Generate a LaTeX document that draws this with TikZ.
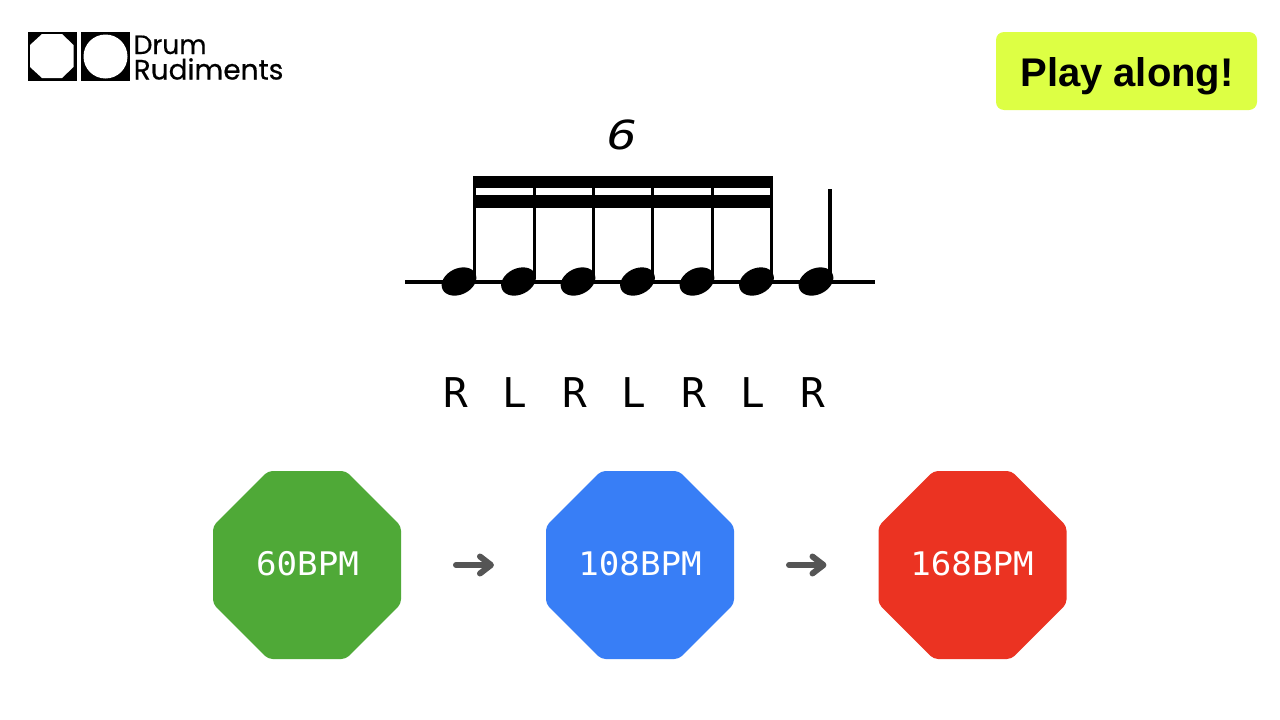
\documentclass[tikz,border=0pt]{standalone}
\usepackage{fontspec}
\setmainfont{Liberation Sans}
\newfontfamily\monof{DejaVu Sans Mono}
\newfontfamily\logof[FakeBold=0.5]{Poppins}
\usetikzlibrary{shapes.geometric,arrows.meta}
\definecolor{cgreen}{HTML}{4FA937}
\definecolor{cblue}{HTML}{387EF6}
\definecolor{cred}{HTML}{EB3322}
\definecolor{cyell}{HTML}{DDFF44}
\definecolor{cgray}{HTML}{555555}
\tikzset{
  bpm/.style={regular polygon,regular polygon sides=8,minimum size=203.5pt,inner sep=0pt,outer sep=0pt,rounded corners=4.5pt,text=white},
  bpmtext/.style={anchor=center,inner sep=0pt,text=white,xscale=1.05,font=\monof\fontsize{32.5}{32.5}\selectfont},
  hand/.style={anchor=base,font=\monof\fontsize{41}{41}\selectfont,inner sep=0pt},
  head/.style={fill=black,rotate=26,ellipse,minimum width=36.5pt,minimum height=26pt,inner sep=0pt,outer sep=0pt},
  stem/.style={line width=3pt,black},
  go/.style={draw=cgray,line width=6pt,line cap=round,-{Straight Barb[length=11pt,width=17pt,round]},shorten <=55pt,shorten >=52pt}
}
\begin{document}
\begin{tikzpicture}[x=1pt,y=-1pt]
\useasboundingbox (0,0) rectangle (1280,720);
\fill[white] (0,0) rectangle (1280,720);
% logo
\fill[black] (27.5,32) rectangle (76.5,81);
\fill[black] (81,32) rectangle (130,81);
\fill[white] (42,34) -- (62,34) -- (73.5,45) -- (73.5,67) -- (62,78) -- (42,78) -- (30,67) -- (30,45) -- cycle;
\fill[white] (105.5,56.5) circle (22);
\node[anchor=base west,inner sep=0pt,font=\logof\fontsize{26.5}{27}\selectfont] (drum) at (133.5,54) {Drum};
\node[anchor=base west,inner sep=0pt,font=\logof\fontsize{28}{28}\selectfont] (rud) at (133.5,79.5) {Rudiments};
% play along
\node[fill=cyell,rounded corners=8pt,minimum width=261pt,minimum height=78pt,inner sep=0pt] (play) at (1126.5,71) {};
\node[anchor=base,inner sep=0pt,font=\bfseries\fontsize{40}{40}\selectfont] (playt) at (1127,86) {Play along!};
% notation
\node[hand,xscale=1.25,font=\monof\itshape\fontsize{40}{40}\selectfont] (six) at (623,149) {6};
\draw[line width=4pt] (405,282) -- (875,282);
\foreach \x/\n in {459/a,518.5/b,578/c,637.5/d,697/e,756.5/f,816/g}{
  \node[head] (\n) at (\x,281.5) {};
}
\fill (472.7,176) rectangle (773,188.3);
\fill (472.7,195.3) rectangle (773,208.3);
\foreach \x in {474.3,534,593.2,652.8,712.2,771.5}{
  \draw[stem] (\x,176) -- (\x,279);
}
\draw[line width=4.5pt] (830,189) -- (830,282);
% sticking
\foreach \x/\t in {456/R,515/L,575/R,634/L,694/R,753/L,813/R}{
  \node[hand] (h\x) at (\x,407) {\t};
}
% tempi
\node[bpm,fill=cgreen] (o1) at (307,565) {};
\node[bpm,fill=cblue] (o2) at (640,565) {};
\node[bpm,fill=cred] (o3) at (972.5,565) {};
\node[bpmtext] (t1) at (307.5,564) {60BPM};
\node[bpmtext] (t2) at (640,564) {108BPM};
\node[bpmtext] (t3) at (972,564) {168BPM};
\draw[go] (o1) -- (o2);
\draw[go] (o2) -- (o3);
\end{tikzpicture}
\end{document}
